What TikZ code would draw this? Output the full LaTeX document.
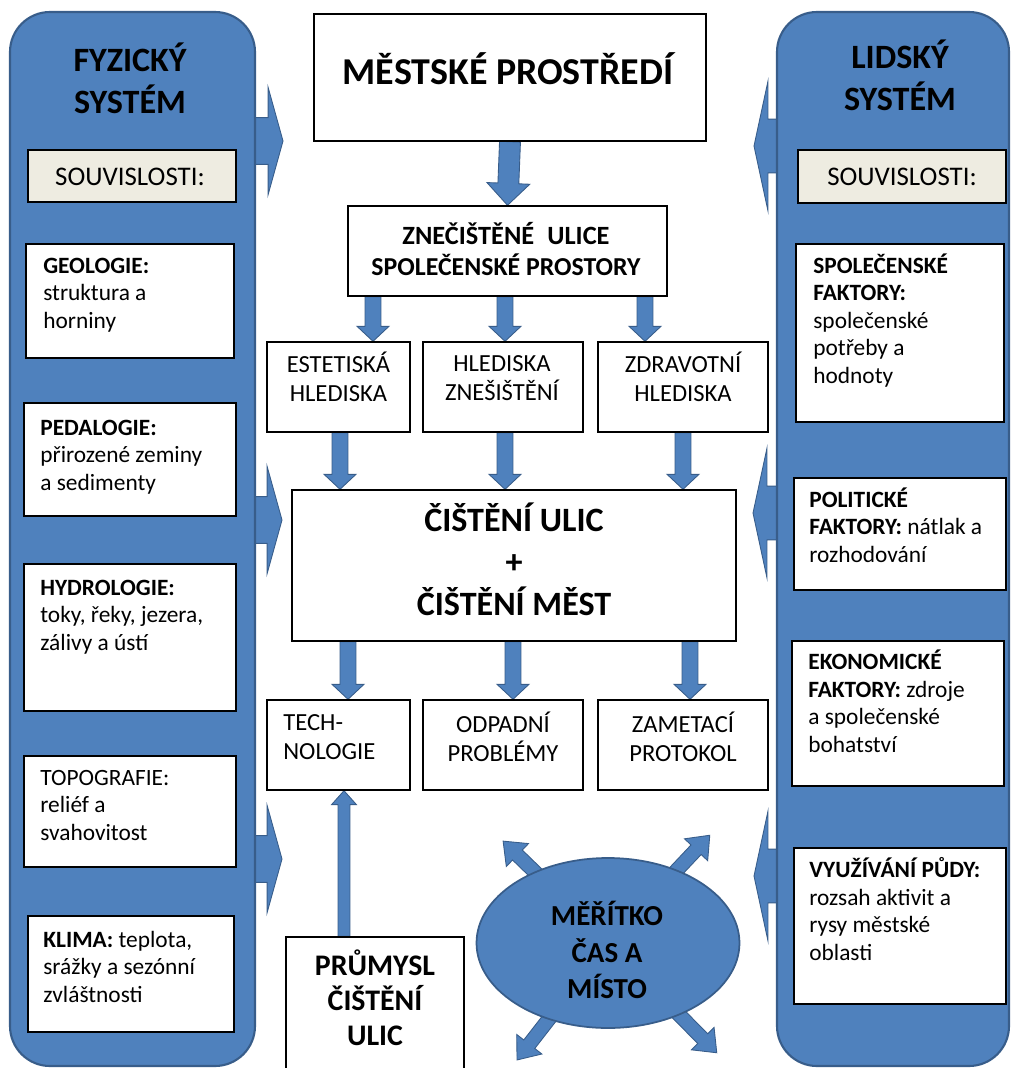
\documentclass[tikz,border=0pt]{standalone}
\usepackage{fontspec}
\setmainfont{Carlito}
\usetikzlibrary{calc,fit,shapes.geometric}

\definecolor{accblue}{HTML}{4F81BD}
\definecolor{accline}{HTML}{385D8A}
\definecolor{paper}{HTML}{EEECE1}

\pgfdeclarelayer{bg}
\pgfsetlayers{bg,main}

% one pixel of the sketch
\newcommand{\pxu}{0.5669pt}
% fat arrow: from, to, shaft half width, head half width, head length (px)
\newcommand{\fatarr}[5]{%
  \path[blockarr] let \p1=(#1), \p2=(#2), \n1={veclen(\x2-\x1,\y2-\y1)}, \n2={atan2(\y2-\y1,\x2-\x1)} in
    [shift={(\p1)}, rotate=\n2]
    (0pt,-#3*\pxu) -- (\n1*1pt-#5*\pxu,-#3*\pxu) -- (\n1*1pt-#5*\pxu,-#4*\pxu) -- (\n1*1pt,0pt)
    -- (\n1*1pt-#5*\pxu,#4*\pxu) -- (\n1*1pt-#5*\pxu,#3*\pxu) -- (0pt,#3*\pxu) -- cycle;}

\tikzset{
  sysbox/.style={draw=accline, line width=1.2pt, fill=accblue, rounded corners=0.8cm, inner sep=0pt},
  box/.style={draw=black, line width=0.8pt, fill=white, inner sep=0pt},
  keybox/.style={box, fill=paper},
  keytext/.style={inner sep=0pt, font=\fontsize{15.3}{18}\selectfont},
  blockarr/.style={draw=accline, line width=0.5pt, fill=accblue},
  systitle/.style={align=center, inner sep=0pt, font=\bfseries\fontsize{19.4}{23.8}\selectfont},
  sidetext/.style={anchor=base west, align=left, inner sep=0pt, font=\fontsize{13.3}{15.6}\selectfont},
  rowtext/.style={align=center, inner sep=0pt, font=\fontsize{14}{16.4}\selectfont},
  bigtext/.style={align=center, inner sep=0pt, font=\bfseries\fontsize{19.4}{24}\selectfont},
}

\begin{document}
\begin{tikzpicture}[x=0.02cm, y=-0.02cm]
    \useasboundingbox (0,0) rectangle (1011,1068);

    % side systems
    \node[sysbox, fit={(10,12) (255,1066)}] (phys) {};
    \node[sysbox, fit={(777,12) (1009,1066)}] (human) {};
    \node[systitle] (physt) at (130,78) {FYZICKÝ\\SYSTÉM};
    \node[systitle] (humant) at (900,75) {LIDSKÝ\\SYSTÉM};
    \node[keybox, fit={(28,150) (236,202)}] (physk) {};
    \node[keybox, fit={(798,150) (1006,203)}] (humank) {};
    \node[keytext] (physkt) at (130,177) {SOUVISLOSTI:};
    \node[keytext] (humankt) at (902,177) {SOUVISLOSTI:};

    % left boxes (last line baselines)
    \node[box, fit={(26,244) (234,358)}] (geo) {};
    \node[box, fit={(24,403) (236,516)}] (ped) {};
    \node[box, fit={(24,564) (236,711)}] (hyd) {};
    \node[box, fit={(24,756) (236,867)}] (topo) {};
    \node[box, fit={(28,916) (234,1032)}] (klima) {};
    \node[sidetext] (geot) at (43,328) {\textbf{GEOLOGIE:}\\struktura a\\horniny};
    \node[sidetext] (pedt) at (40,490) {\textbf{PEDALOGIE:}\\přirozené zeminy\\a sedimenty};
    \node[sidetext] (hydt) at (40,650) {\textbf{HYDROLOGIE:}\\toky, řeky, jezera,\\zálivy a ústí};
    \node[sidetext] (topot) at (40,840) {TOPOGRAFIE:\\reliéf a\\svahovitost};
    \node[sidetext] (klimat) at (43,1002) {\textbf{KLIMA:} teplota,\\srážky a sezónní\\zvláštnosti};

    % right boxes
    \node[box, fit={(796,244) (1004,422)}] (soc) {};
    \node[box, fit={(794,478) (1006,590)}] (pol) {};
    \node[box, fit={(792,641) (1004,786)}] (eko) {};
    \node[box, fit={(794,848) (1006,1004)}] (land) {};
    \node[sidetext] (soct) at (813,383) {\textbf{SPOLEČENSKÉ}\\\textbf{FAKTORY:}\\společenské\\potřeby a\\hodnoty};
    \node[sidetext] (polt) at (809,562) {\textbf{POLITICKÉ}\\\textbf{FAKTORY:} nátlak a\\rozhodování};
    \node[sidetext] (ekot) at (808,752) {\textbf{EKONOMICKÉ}\\\textbf{FAKTORY:} zdroje\\a společenské\\bohatství};
    \node[sidetext] (landt) at (809,960) {\textbf{VYUŽÍVÁNÍ PŮDY:}\\rozsah aktivit a\\rysy městské\\oblasti};

    % middle
    \node[box, fit={(314,14) (706,141)}] (mesto) {};
    \node[inner sep=0pt, font=\bfseries\fontsize{21.6}{26}\selectfont] (mestot) at (508,69) {MĚSTSKÉ PROSTŘEDÍ};
    \node[box, fit={(348,206) (667,296)}] (zne) {};
    \node[align=center, inner sep=0pt, font=\bfseries\fontsize{14.7}{18}\selectfont] (znet) at (506,249)
        {{\fontsize{15}{18}\selectfont ZNEČIŠTĚNÉ\hspace{0.5em}ULICE}\\SPOLEČENSKÉ PROSTORY};

    \node[box, fit={(267,342) (410,432)}] (aest) {};
    \node[box, fit={(423,342) (583,432)}] (poll) {};
    \node[box, fit={(598,342) (768,432)}] (heal) {};
    \node[rowtext] (aestt) at (338.5,377) {ESTETISKÁ\\HLEDISKA};
    \node[rowtext] (pollt) at (502,378) {HLEDISKA\\ZNEŠIŠTĚNÍ};
    \node[rowtext] (healt) at (683,377) {ZDRAVOTNÍ\\HLEDISKA};

    \node[box, fit={(292,490) (736,641)}] (clean) {};
    \node[bigtext] (cleant) at (514,559) {ČIŠTĚNÍ ULIC\\+\\ČIŠTĚNÍ MĚST};

    \node[box, fit={(267,700) (410,790)}] (tech) {};
    \node[box, fit={(423,700) (583,790)}] (waste) {};
    \node[box, fit={(598,700) (768,790)}] (sweep) {};
    \node[rowtext, align=left, anchor=west] (techt) at (283,737) {TECH-\\NOLOGIE};
    \node[rowtext] (wastet) at (503,737) {ODPADNÍ\\PROBLÉMY};
    \node[rowtext] (sweept) at (683,737) {ZAMETACÍ\\PROTOKOL};

    \node[box, fit={(286,937) (464,1090)}] (ind) {};
    \node[align=center, inner sep=0pt, font=\bfseries\fontsize{17}{19.8}\selectfont] (indt) at (375,998) {PRŮMYSL\\ČIŠTĚNÍ\\ULIC};

    \node[ellipse, draw=accline, line width=1pt, fill=accblue, minimum width=5.26cm, minimum height=3.4cm, inner sep=0pt] (scale) at (608,943) {};
    \node[align=center, inner sep=0pt, font=\bfseries\fontsize{16.5}{21}\selectfont] (scalet) at (607,950) {MĚŘÍTKO\\ČAS A\\MÍSTO};

    % arrow points
    \coordinate (pa1) at (283,141); \coordinate (pa2) at (282,520); \coordinate (pa3) at (282,859);
    \coordinate (ha1) at (754,146); \coordinate (ha2) at (753,513); \coordinate (ha3) at (754,876);
    \coordinate (z1) at (373,0); \coordinate (z2) at (505,0); \coordinate (z3) at (645,0);
    \coordinate (r1) at (340,0); \coordinate (r2) at (505,0); \coordinate (r3) at (683,0);
    \coordinate (m1) at (348,0); \coordinate (m2) at (513,0); \coordinate (m3) at (690,0);
    \coordinate (t1) at (344,0);
    \coordinate (e1) at (503,841); \coordinate (e2) at (710,835);
    \coordinate (e3) at (517,1060); \coordinate (e4) at (717,1053);

    % arrows
    \begin{pgfonlayer}{bg}
        \fill[white] (0,0) rectangle (1011,1068);
        \fatarr{phys.center |- pa1}{pa1}{23.5}{54}{15}
        \fatarr{phys.center |- pa2}{pa2}{23.5}{54}{15}
        \fatarr{phys.center |- pa3}{pa3}{23.5}{54}{15}
        \fatarr{human.center |- ha1}{ha1}{27}{65}{14}
        \fatarr{human.center |- ha2}{ha2}{27}{65}{14}
        \fatarr{human.center |- ha3}{ha3}{27}{65}{14}

        \fatarr{mesto.south}{zne.north}{10.5}{21.5}{22}
        \fatarr{zne.south -| z1}{aest.north -| z1}{8}{16}{15}
        \fatarr{zne.south -| z2}{poll.north -| z2}{8}{16}{15}
        \fatarr{zne.south -| z3}{heal.north -| z3}{8}{16}{15}
        \fatarr{aest.south -| r1}{clean.north -| r1}{8}{16}{15}
        \fatarr{poll.south -| r2}{clean.north -| r2}{8}{16}{15}
        \fatarr{heal.south -| r3}{clean.north -| r3}{8}{16}{15}
        \fatarr{clean.south -| m1}{tech.north -| m1}{8}{16}{15}
        \fatarr{clean.south -| m2}{waste.north -| m2}{8}{16}{15}
        \fatarr{clean.south -| m3}{sweep.north -| m3}{8}{16}{15}
        \fatarr{ind.north -| t1}{tech.south -| t1}{6}{12.5}{14}

        \fatarr{scale.center}{e1}{7}{16}{20}
        \fatarr{scale.center}{e2}{7}{16}{20}
        \fatarr{scale.center}{e3}{7}{16}{20}
        \fatarr{scale.center}{e4}{7}{16}{20}
    \end{pgfonlayer}
\end{tikzpicture}
\end{document}
